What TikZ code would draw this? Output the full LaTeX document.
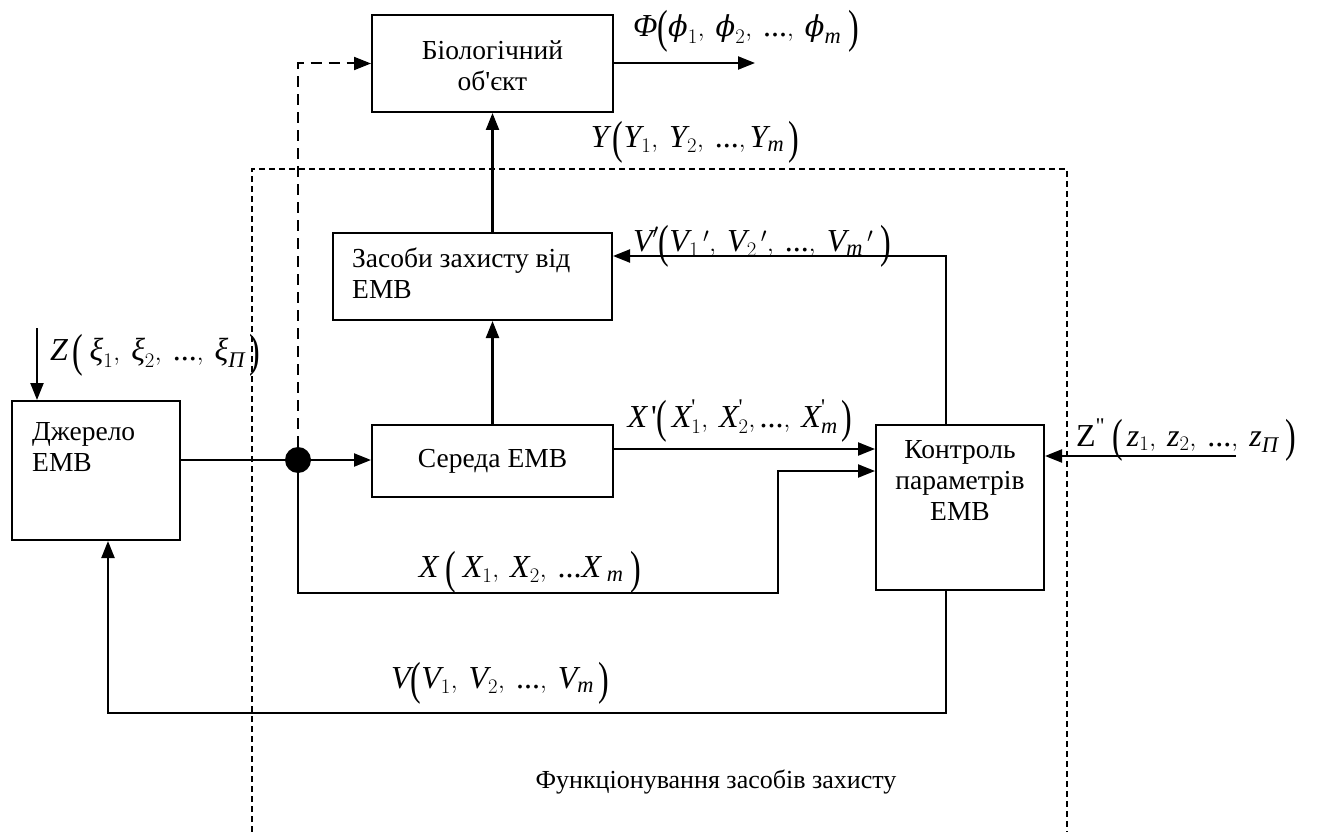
\documentclass[tikz,border=0pt]{standalone}
\usepackage{amsmath}
\usepackage{fontspec}
\setmainfont{Liberation Serif}[Ligatures=TeXOff]
\newfontfamily\dejaser{DejaVu Serif}
\usetikzlibrary{arrows.meta}
\newcommand\mi[1]{\text{\itshape #1}}
\newcommand\vphi{\text{\scalebox{0.9}{\dejaser\itshape ϕ}}}
\newcommand\lpar{\mathopen{\text{\raisebox{-0.17em}{\scalebox{1}[1.45]{(}}}}}
\newcommand\rpar{\mathclose{\text{\raisebox{-0.17em}{\scalebox{1}[1.45]{)}}}}}
\begin{document}
\begin{tikzpicture}[x=1pt,y=-1pt,
  box/.style={draw,line width=2pt,inner sep=0pt},
  txt/.style={font=\fontsize{27.5}{31}\selectfont,inner sep=0pt},
  frm/.style={font=\fontsize{32}{38}\selectfont,inner sep=0pt},
  conn/.style={line width=2.2pt},
  arr/.style={line width=2.2pt,-{Triangle[length=17pt,width=13pt]}},
  dconn/.style={line width=2pt,dash pattern=on 11pt off 7pt,-{Triangle[length=17pt,width=13pt]}},
  frame/.style={line width=1.5pt,dash pattern=on 6pt off 4pt}]
\useasboundingbox (0,0) rectangle (1318,832);
% boxes
\node[box,minimum width=241pt,minimum height=97pt] (bio) at (492.5,63.5) {};
\node[txt,align=center] (biot) at (492.5,66) {Біологічний\\об'єкт};
\node[box,minimum width=279pt,minimum height=87pt] (zas) at (472.5,276.5) {};
\node[txt,align=left,anchor=north west] (zast) at (352,248) {Засоби захисту від\\ЕМВ};
\node[box,minimum width=168pt,minimum height=139pt] (dz) at (96,470.5) {};
\node[txt,align=left,anchor=north west] (dzt) at (32,422) {Джерело\\ЕМВ};
\node[box,minimum width=241pt,minimum height=72pt] (sr) at (492.5,461) {};
\node[txt] (srt) at (492.5,461) {Середа ЕМВ};
\node[box,minimum width=168pt,minimum height=165pt] (kt) at (960,507.5) {};
\node[txt,align=center,anchor=north] (ktt) at (960,440) {Контроль\\параметрів\\ЕМВ};
% frame
\draw[frame] (252,832) -- (252,169) -- (1067,169) -- (1067,832);
% junction
\node[circle,fill,minimum size=26pt,inner sep=0pt] (dot) at (298,460) {};
% coordinates
\coordinate (phiend) at (755,63);
\coordinate (xa) at (298,593);
\coordinate (xb) at (778,593);
\coordinate (xc) at (778,471);
\coordinate (vt) at (946,256);
\coordinate (vb) at (946,713);
\coordinate (vl) at (108,713);
\coordinate (zs) at (37,328);
\coordinate (zr) at (1236,456);
% connectors
\draw[conn] (dz.east |- dot) -- (dot);
\draw[arr] (dot) -- (sr.west |- dot);
\draw[dconn] (dot.north) |- (bio.west);
\draw[arr] (bio.east |- phiend) -- (phiend);
\draw[arr] (sr.north) -- (zas.south -| sr.north);
\draw[arr] (zas.north -| sr.north) -- (bio.south);
\draw[arr] (kt.north -| vt) -- (vt) -- (zas.east |- vt);
\draw[arr] (sr.east |- 0,449) -- (kt.west |- 0,449);
\draw[arr] (dot.south) -- (xa) -- (xb) -- (xc) -- (kt.west |- xc);
\draw[arr] (kt.south -| vb) -- (vb) -- (vl) -- (dz.south -| vl);
\draw[arr] (zs) -- (dz.north -| zs);
\draw[arr] (zr) -- (kt.east |- zr);
% labels
\node[frm] (lphi) at (746,31) {$\mi{Φ}\lpar \vphi_1,\;\vphi_2,\;\text{...},\;\vphi_{\mi{m}}\;\rpar$};
\node[frm] (ly) at (695,142) {$\mi{Y}\,\lpar \mi{Y}_1,\;\mi{Y}_2,\;\text{...},\mi{Y}_{\mi{m}}\,\rpar$};
\node[frm] (lvp) at (762,246) {$\mi{V}'\lpar \mi{V}_1\,',\;\mi{V}_2\,',\;\text{...},\;\mi{V}_{\mi{m}}\,'\;\rpar$};
\node[frm] (lz) at (155,355) {$\mi{Z}\,\lpar\; \mi{ξ}_1,\;\mi{ξ}_2,\;\text{...},\;\mi{ξ}_{\mi{П}}\,\rpar$};
\node[frm] (lxp) at (740,421) {$\mi{X}\,\text{'}\lpar\, \mi{X}_1^{\text{'}},\;\mi{X}_2^{\text{'}},\text{...},\;\mi{X}_{\mi{m}}^{\text{'}}\,\rpar$};
\node[frm] (lzz) at (1186,440) {$\text{Z}^{\text{"}}\;\lpar\, \mi{z}_1,\;\mi{z}_2,\;\text{...},\;\mi{z}_{\mi{П}}\;\rpar$};
\node[frm] (lx) at (530,572) {$\mi{X}\;\lpar\; \mi{X}_1,\;\mi{X}_2,\;\text{...}\mi{X}_{\;\mi{m}}\;\rpar$};
\node[frm] (lv) at (500,683) {$\mi{V}\lpar \mi{V}_1,\;\mi{V}_2,\;\text{...},\;\mi{V}_{\mi{m}}\,\rpar$};
\node[txt,font=\fontsize{26}{31}\selectfont] (lfun) at (716,782) {Функціонування засобів захисту};
\end{tikzpicture}
\end{document}
